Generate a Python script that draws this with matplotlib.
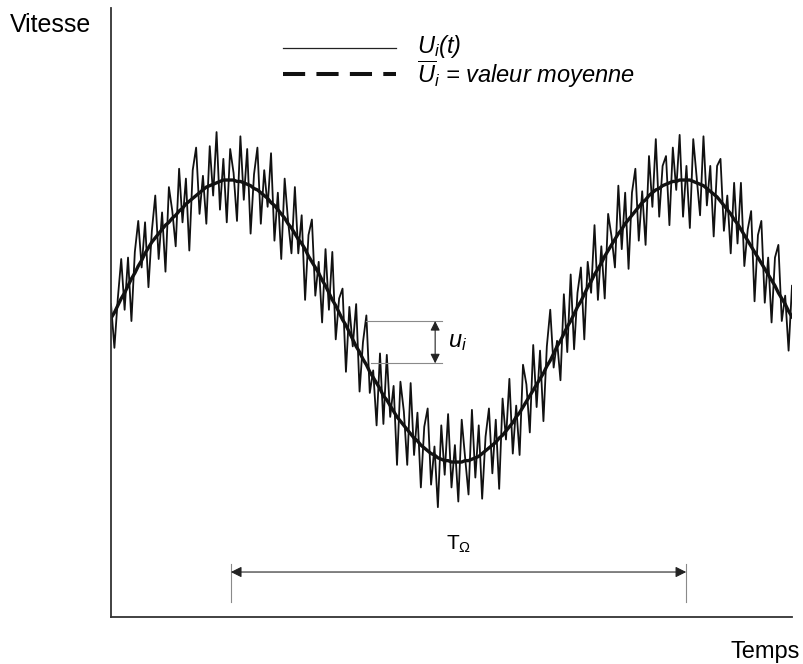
import numpy as np
import matplotlib
matplotlib.use("Agg")
import matplotlib.pyplot as plt
from matplotlib.lines import Line2D

plt.rcParams['font.family'] = ['Liberation Sans', 'DejaVu Sans']
plt.rcParams['mathtext.fontset'] = 'custom'
plt.rcParams['mathtext.rm'] = 'Liberation Sans'
plt.rcParams['mathtext.it'] = 'Liberation Sans:italic'

# 1. data, time 0..150, one period ~ 100
u_mean = [
    0.02, 0.06, 0.11, 0.16, 0.20, 0.25, 0.30, 0.34, 0.39, 0.43,
    0.48, 0.52, 0.56, 0.59, 0.62, 0.65, 0.68, 0.70, 0.73, 0.75,
    0.78, 0.80, 0.83, 0.85, 0.87, 0.89, 0.91, 0.93, 0.95, 0.96,
    0.97, 0.98, 0.99, 1.00, 1.00, 1.00, 1.00, 0.99, 0.99, 0.98,
    0.97, 0.96, 0.94, 0.93, 0.91, 0.89, 0.87, 0.84, 0.82, 0.79,
    0.76, 0.73, 0.69, 0.66, 0.62, 0.58, 0.55, 0.51, 0.46, 0.42,
    0.38, 0.34, 0.29, 0.25, 0.20, 0.15, 0.11, 0.06, 0.01, -0.03,
    -0.08, -0.13, -0.18, -0.22, -0.27, -0.31, -0.36, -0.40, -0.44, -0.48,
    -0.53, -0.56, -0.60, -0.64, -0.68, -0.71, -0.74, -0.77, -0.80, -0.83,
    -0.85, -0.88, -0.90, -0.92, -0.94, -0.95, -0.97, -0.98, -0.99, -0.99,
    -1.00, -1.00, -1.00, -1.00, -0.99, -0.99, -0.98, -0.97, -0.96, -0.94,
    -0.92, -0.90, -0.88, -0.86, -0.83, -0.81, -0.78, -0.75, -0.72, -0.68,
    -0.65, -0.61, -0.57, -0.53, -0.49, -0.45, -0.41, -0.37, -0.32, -0.28,
    -0.23, -0.18, -0.14, -0.09, -0.04, 0.00, 0.05, 0.10, 0.14, 0.19,
    0.24, 0.28, 0.33, 0.37, 0.41, 0.46, 0.50, 0.54, 0.58, 0.62,
    0.65, 0.69, 0.72, 0.75, 0.78, 0.81, 0.84, 0.86, 0.89, 0.91,
    0.93, 0.94, 0.96, 0.97, 0.98, 0.99, 0.99, 1.00, 1.00, 1.00,
    1.00, 0.99, 0.98, 0.97, 0.96, 0.94, 0.92, 0.90, 0.88, 0.85,
    0.82, 0.79, 0.76, 0.72, 0.69, 0.65, 0.61, 0.57, 0.53, 0.49,
    0.45, 0.41, 0.37, 0.33, 0.29, 0.25, 0.20, 0.16, 0.12, 0.07,
    0.03,
]
u_fluct = [
    0.10, -0.25, 0.05, 0.28, -0.12, 0.20, -0.30, 0.15, 0.32, -0.05,
    0.22, -0.28, 0.08, 0.30, -0.18, 0.12, -0.33, 0.25, 0.05, -0.22,
    0.30, -0.10, 0.18, -0.35, 0.20, 0.34, -0.15, 0.10, -0.26, 0.28,
    -0.08, 0.36, -0.20, 0.15, -0.30, 0.22, 0.05, -0.28, 0.32, -0.12,
    0.25, -0.34, 0.10, 0.30, -0.22, 0.18, -0.06, 0.35, -0.25, 0.12,
    -0.32, 0.28, 0.02, -0.18, 0.33, -0.10, 0.20, -0.36, 0.15, 0.30,
    -0.20, 0.08, -0.30, 0.26, -0.12, 0.34, -0.24, 0.10, 0.22, -0.33,
    0.18, -0.05, 0.30, -0.28, 0.12, 0.35, -0.15, 0.05, -0.30, 0.25,
    -0.20, 0.32, -0.08, 0.18, -0.34, 0.28, 0.10, -0.25, 0.36, -0.12,
    0.20, -0.30, 0.15, 0.30, -0.22, 0.06, -0.35, 0.24, -0.10, 0.33,
    -0.18, 0.12, -0.28, 0.30, 0.02, -0.24, 0.35, -0.14, 0.22, -0.32,
    0.10, 0.28, -0.20, 0.16, -0.36, 0.26, -0.06, 0.34, -0.22, 0.08,
    -0.30, 0.30, 0.12, -0.26, 0.32, -0.16, 0.20, -0.34, 0.14, 0.36,
    -0.10, 0.04, -0.28, 0.28, -0.18, 0.33, -0.25, 0.10, 0.24, -0.32,
    0.18, -0.08, 0.35, -0.22, 0.12, -0.30, 0.26, 0.06, -0.20, 0.34,
    -0.14, 0.22, -0.35, 0.16, 0.30, -0.24, 0.08, -0.32, 0.28, -0.10,
    0.36, -0.20, 0.14, 0.20, -0.30, 0.24, -0.06, 0.32, -0.26, 0.10,
    -0.34, 0.30, 0.04, -0.22, 0.35, -0.12, 0.18, -0.30, 0.22, 0.30,
    -0.18, 0.10, -0.28, 0.26, -0.14, 0.33, -0.22, 0.08, 0.25, -0.35,
    0.16, 0.30, -0.24, 0.12, -0.30, 0.20, 0.34, -0.16, 0.06, -0.28,
    0.22,
]
t_start, t_end = 0, 150
period_marks = [26.4, 126.7]        # T_Omega
ui_marks = [0.0, -0.30]             # fluctuation shown as u_i

t = np.linspace(t_start, t_end, len(u_mean))
u_mean = np.array(u_mean)
u_inst = u_mean + np.array(u_fluct)

# 2. figure
fig = plt.figure(figsize=(8.04, 6.64), dpi=100)
W, H = 804, 664
ax = fig.add_axes([111 / W, 47 / H, 681 / W, 609 / H])
ax.plot(t, u_mean, color='#111111', lw=2.4, solid_joinstyle='round')
ax.plot(t, u_inst, color='#111111', lw=1.3)
ax.set_xlim(t_start, t_end)
ax.set_ylim(-2.099, 2.22)
for s in ['top', 'right']:
    ax.spines[s].set_visible(False)
for s in ['left', 'bottom']:
    ax.spines[s].set_color('#333333')
    ax.spines[s].set_linewidth(1.3)
ax.set_xticks([])
ax.set_yticks([])

gray = '#8a8a8a'
# u_i marker
ax.plot([56.2, 72.9], [ui_marks[0]] * 2, color=gray, lw=0.8)
ax.plot([57.3, 72.9], [ui_marks[1]] * 2, color=gray, lw=0.8)
ax.annotate('', xy=(71.4, ui_marks[1]), xytext=(71.4, ui_marks[0]),
            arrowprops=dict(arrowstyle='<|-|>', color='#222222', lw=0.8,
                            mutation_scale=14, shrinkA=0, shrinkB=0))
ax.text(74.2, -0.15, r'$u_i$', fontsize=17, va='center', ha='left')

# T_Omega marker
for xm in period_marks:
    ax.plot([xm, xm], [-1.72, -1.99], color=gray, lw=0.8)
ax.annotate('', xy=(period_marks[0], -1.78), xytext=(period_marks[1], -1.78),
            arrowprops=dict(arrowstyle='<|-|>', color='#222222', lw=0.8,
                            mutation_scale=16, shrinkA=0, shrinkB=0))
ax.text(76.5, -1.66, r'T$_\Omega$', fontsize=15, ha='center', va='bottom')

# axis titles
fig.text(10 / W, 1 - 25 / H, 'Vitesse', fontsize=18, va='center', ha='left')
fig.text(800 / W, 1 - 652 / H, 'Temps', fontsize=17, va='center', ha='right')

# legend (hand drawn like the reference)
fig.add_artist(Line2D([283 / W, 396 / W], [1 - 48 / H] * 2, color='#222222',
                      lw=0.9, transform=fig.transFigure))
fig.add_artist(Line2D([283 / W, 396 / W], [1 - 74 / H] * 2, color='#111111',
                      lw=2.9, dashes=(5.5, 2.8), transform=fig.transFigure))
fig.text(417 / W, 1 - 46 / H, r'$U_i$(t)', fontsize=17, style='italic',
         va='center', ha='left')
fig.text(417 / W, 1 - 74 / H, r'$\overline{U}_i$ = valeur moyenne', fontsize=17,
         style='italic', va='center', ha='left')

plt.savefig('out.png', dpi=100, facecolor='white')
plt.close()
